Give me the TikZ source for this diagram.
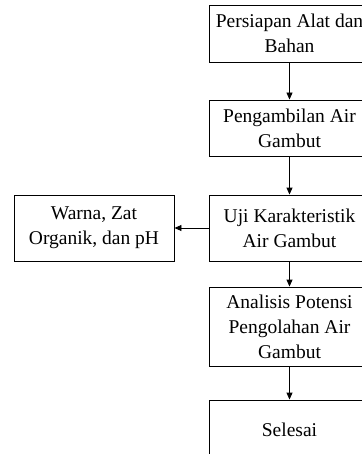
\documentclass[tikz,border=0pt]{standalone}
\usepackage{fontspec}
\setmainfont{Liberation Serif}
\usetikzlibrary{arrows.meta}
\begin{document}
\begin{tikzpicture}[x=1pt,y=-1pt,
  box/.style={draw, line width=0.9pt, minimum width=160pt, align=center, inner sep=0pt, font=\fontsize{19.5}{25}\selectfont},
  arr/.style={-{Triangle[length=7pt,width=6pt]}, line width=0.9pt}]
\useasboundingbox (0,0) rectangle (361,454);
\node[box, minimum height=57pt] (b1) at (289.5,33.5) {Persiapan Alat dan\\Bahan};
\node[box, minimum height=56pt] (b2) at (289.5,128) {Pengambilan Air\\Gambut};
\node[box, minimum height=66pt] (b3) at (289.5,228) {Uji Karakteristik\\Air Gambut};
\node[box, minimum height=66pt] (lb) at (94,228) {Warna, Zat\\Organik, dan pH};
\node[box, minimum height=79pt] (b4) at (289.5,326.5) {Analisis Potensi\\Pengolahan Air\\Gambut};
\node[box, minimum height=60pt] (b5) at (289.5,430) {Selesai};
\draw[arr] (b1) -- (b2);
\draw[arr] (b2) -- (b3);
\draw[arr] (b3) -- (lb);
\draw[arr] (b3) -- (b4);
\draw[arr] (b4) -- (b5);
\end{tikzpicture}
\end{document}
